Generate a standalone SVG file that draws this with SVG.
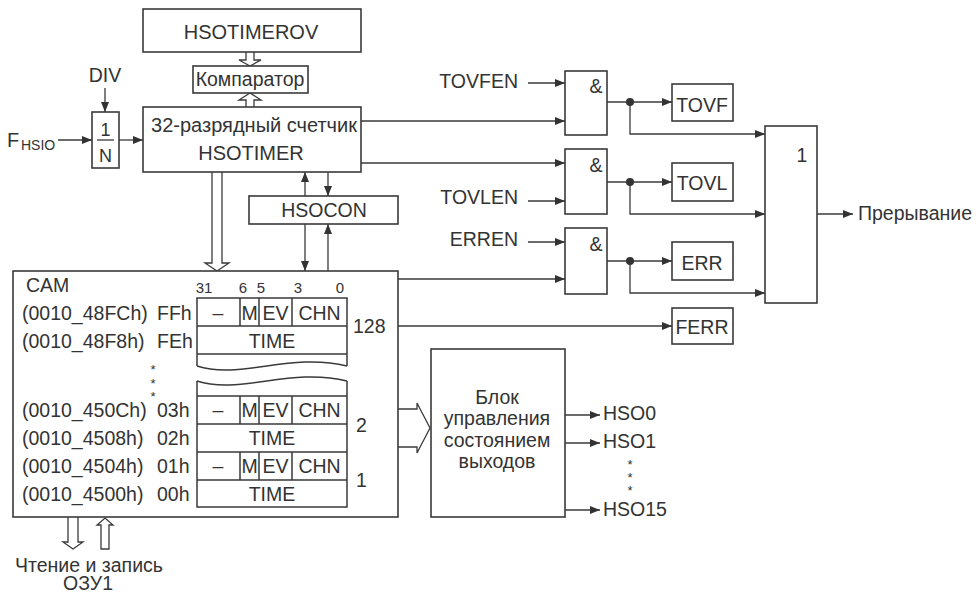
<svg xmlns="http://www.w3.org/2000/svg" width="976" height="593" viewBox="0 0 976 593">
<style>
.t{font-family:"Liberation Sans",Arial,sans-serif;font-size:19.5px;fill:#333}
.L{font-size:20px}
.s{font-size:15px}
.st{font-size:13px}
.m{text-anchor:middle}
.e{text-anchor:end}
.b{fill:#fff;stroke:#3a3a3a;stroke-width:1.6}
.ln{fill:none;stroke:#3a3a3a;stroke-width:1.3}
.la{fill:none;stroke:#3a3a3a;stroke-width:1.3;marker-end:url(#ah)}
.h{fill:#fff;stroke:#3a3a3a;stroke-width:1.3}
</style>
<defs>
<marker id="ah" viewBox="0 0 10 8" refX="10" refY="4" markerWidth="10" markerHeight="8" markerUnits="userSpaceOnUse" orient="auto"><path d="M0,0 L10,4 L0,8 z" fill="#333"/></marker>
</defs>
<rect width="976" height="593" fill="#fff"/>

<g id="connectors">
<line class="la" x1="58" y1="140" x2="92" y2="140"/>
<line class="la" x1="105" y1="88" x2="105" y2="112"/>
<line class="la" x1="119" y1="140" x2="143" y2="140"/>
<path class="h" d="M246,52 V60 H239 L250,66 L261,60 H254 V52"/>
<path class="h" d="M246,107 V100 H239 L250,93 L261,100 H254 V107"/>
<path class="h" d="M212,172 V263 H205 L217,271 L229,263 H222 V172"/>
<path class="h" d="M68,517 V542 H63 L73,549 L83,542 H78 V517"/>
<path class="h" d="M101,549 V525 H97 L105,518 L113,525 H109 V549 Z"/>
<path class="h" d="M398,409 H417 V403 L430,428 L417,453 V447 H398"/>
<line class="la" x1="305" y1="196" x2="305" y2="172"/>
<line class="la" x1="328" y1="172" x2="328" y2="196"/>
<line class="la" x1="305" y1="224" x2="305" y2="271"/>
<line class="la" x1="328" y1="271" x2="328" y2="224"/>
<line class="la" x1="361" y1="121" x2="565" y2="121"/>
<line class="la" x1="361" y1="163" x2="565" y2="163"/>
<line class="la" x1="398" y1="279" x2="565" y2="279"/>
<line class="la" x1="398" y1="326" x2="672" y2="326"/>
<line class="la" x1="528" y1="83" x2="565" y2="83"/>
<line class="la" x1="528" y1="201" x2="565" y2="201"/>
<line class="la" x1="528" y1="242" x2="565" y2="242"/>
<line class="la" x1="607" y1="102" x2="672" y2="102"/>
<path class="la" d="M630,102 V134 H765"/>
<line class="la" x1="607" y1="182" x2="672" y2="182"/>
<path class="la" d="M630,182 V214 H765"/>
<line class="la" x1="607" y1="261" x2="672" y2="261"/>
<path class="la" d="M630,261 V293 H765"/>
<circle cx="630" cy="102" r="4" fill="#333"/>
<circle cx="630" cy="182" r="4" fill="#333"/>
<circle cx="630" cy="261" r="4" fill="#333"/>
<line class="la" x1="817" y1="214" x2="853" y2="214"/>
<line class="la" x1="565" y1="415" x2="600" y2="415"/>
<line class="la" x1="565" y1="443" x2="600" y2="443"/>
<line class="la" x1="565" y1="510" x2="600" y2="510"/>
</g>

<g id="fhsio">
<text class="t L" x="7" y="147">F<tspan x="21" y="150" style="font-size:14px">HSIO</tspan></text>
</g>
<g id="div"><text class="t m" x="105" y="82">DIV</text></g>
<g id="divider">
<rect class="b" x="92" y="112" width="27" height="56"/>
<text class="t m" x="105.5" y="136" style="font-size:18px">1</text>
<line class="ln" x1="97" y1="140" x2="114" y2="140"/>
<text class="t m" x="105.5" y="162" style="font-size:18px">N</text>
</g>
<g id="hsotimerov">
<rect class="b" x="143" y="9" width="218" height="43"/>
<text class="t L m" x="251" y="39">HSOTIMEROV</text>
</g>
<g id="comparator">
<rect class="b" x="193" y="66" width="115" height="27"/>
<text class="t m" x="250" y="86">Компаратор</text>
</g>
<g id="hsotimer">
<rect class="b" x="143" y="107" width="218" height="65"/>
<text class="t L m" x="254" y="132">32-разрядный счетчик</text>
<text class="t L m" x="251" y="160">HSOTIMER</text>
</g>
<g id="hsocon">
<rect class="b" x="249" y="196" width="149" height="28"/>
<text class="t m" x="324" y="217">HSOCON</text>
</g>

<g id="cam">
<rect class="b" x="13" y="271" width="385" height="246"/>
<text class="t" x="26" y="292">CAM</text>
<text class="t s m" x="204" y="293">31</text>
<text class="t s m" x="243" y="293">6</text>
<text class="t s m" x="261" y="293">5</text>
<text class="t s m" x="298" y="293">3</text>
<text class="t s m" x="340" y="293">0</text>
<path class="ln" style="stroke-width:1.5" d="M197,366 V298 H347 V366 M197,326 H347 M197,354 H347 M240,298 V326 M259,298 V326 M292,298 V326"/>
<path class="ln" style="stroke-width:1.5" d="M197,366 C240,380 290,352 347,366"/>
<path class="ln" style="stroke-width:1.5" d="M197,381 C240,395 290,367 347,381"/>
<path class="ln" style="stroke-width:1.5" d="M197,381 V507 H347 V381 M197,396 H347 M197,424 H347 M197,452 H347 M197,480 H347 M240,396 V424 M259,396 V424 M292,396 V424 M240,452 V480 M259,452 V480 M292,452 V480"/>
<text class="t" x="22" y="320">(0010_48FCh)</text><text class="t" x="157" y="320">FFh</text>
<text class="t" x="22" y="348">(0010_48F8h)</text><text class="t" x="157" y="348">FEh</text>
<text class="t" x="22" y="417">(0010_450Ch)</text><text class="t" x="157" y="417">03h</text>
<text class="t" x="22" y="445">(0010_4508h)</text><text class="t" x="157" y="445">02h</text>
<text class="t" x="22" y="473">(0010_4504h)</text><text class="t" x="157" y="473">01h</text>
<text class="t" x="22" y="501">(0010_4500h)</text><text class="t" x="157" y="501">00h</text>
<text class="t m" x="218" y="320">–</text><text class="t m" x="249.5" y="320">M</text><text class="t m" x="275.5" y="320">EV</text><text class="t m" x="319.5" y="320">CHN</text>
<text class="t m" x="272" y="348">TIME</text>
<text class="t m" x="218" y="417">–</text><text class="t m" x="249.5" y="417">M</text><text class="t m" x="275.5" y="417">EV</text><text class="t m" x="319.5" y="417">CHN</text>
<text class="t m" x="272" y="445">TIME</text>
<text class="t m" x="218" y="473">–</text><text class="t m" x="249.5" y="473">M</text><text class="t m" x="275.5" y="473">EV</text><text class="t m" x="319.5" y="473">CHN</text>
<text class="t m" x="272" y="501">TIME</text>
<text class="t st m" x="153" y="374">*<tspan x="153" y="388">*</tspan><tspan x="153" y="401">*</tspan></text>
<text class="t" x="353" y="333">128</text>
<text class="t" x="356" y="432">2</text>
<text class="t" x="356" y="487">1</text>
</g>
<g id="ram">
<text class="t" x="15" y="572">Чтение и запись<tspan class="m" x="88" y="590">ОЗУ1</tspan></text>
</g>

<g id="tovfen"><text class="t e" x="518" y="88">TOVFEN</text></g>
<g id="tovlen"><text class="t e" x="518" y="204">TOVLEN</text></g>
<g id="erren"><text class="t e" x="518" y="246">ERREN</text></g>
<g id="and1"><rect class="b" x="565" y="71" width="42" height="64"/><text class="t m" x="596" y="93">&amp;</text></g>
<g id="and2"><rect class="b" x="565" y="149" width="42" height="65"/><text class="t m" x="596" y="172">&amp;</text></g>
<g id="and3"><rect class="b" x="565" y="228" width="42" height="66"/><text class="t m" x="596" y="251">&amp;</text></g>
<g id="tovf"><rect class="b" x="672" y="84" width="61" height="37"/><text class="t m" x="702" y="112">TOVF</text></g>
<g id="tovl"><rect class="b" x="672" y="163" width="61" height="38"/><text class="t m" x="702" y="190">TOVL</text></g>
<g id="err"><rect class="b" x="672" y="242" width="61" height="38"/><text class="t m" x="702" y="270">ERR</text></g>
<g id="ferr"><rect class="b" x="672" y="308" width="61" height="36"/><text class="t m" x="702" y="334">FERR</text></g>
<g id="or"><rect class="b" x="765" y="126" width="52" height="177"/><text class="t m" x="802" y="162">1</text></g>
<g id="irq"><text class="t" x="858" y="220">Прерывание</text></g>

<g id="outctl">
<rect class="b" x="431" y="349" width="134" height="168"/>
<text class="t m" x="497" y="404">Блок</text>
<text class="t m" x="497" y="425">управления</text>
<text class="t m" x="497" y="447">состоянием</text>
<text class="t m" x="497" y="468">выходов</text>
</g>
<g id="hso">
<text class="t" x="603" y="420">HSO0</text>
<text class="t" x="603" y="448">HSO1</text>
<text class="t st m" x="630" y="469">*<tspan x="630" y="482">*</tspan><tspan x="630" y="495">*</tspan></text>
<text class="t" x="603" y="516">HSO15</text>
</g>
</svg>
